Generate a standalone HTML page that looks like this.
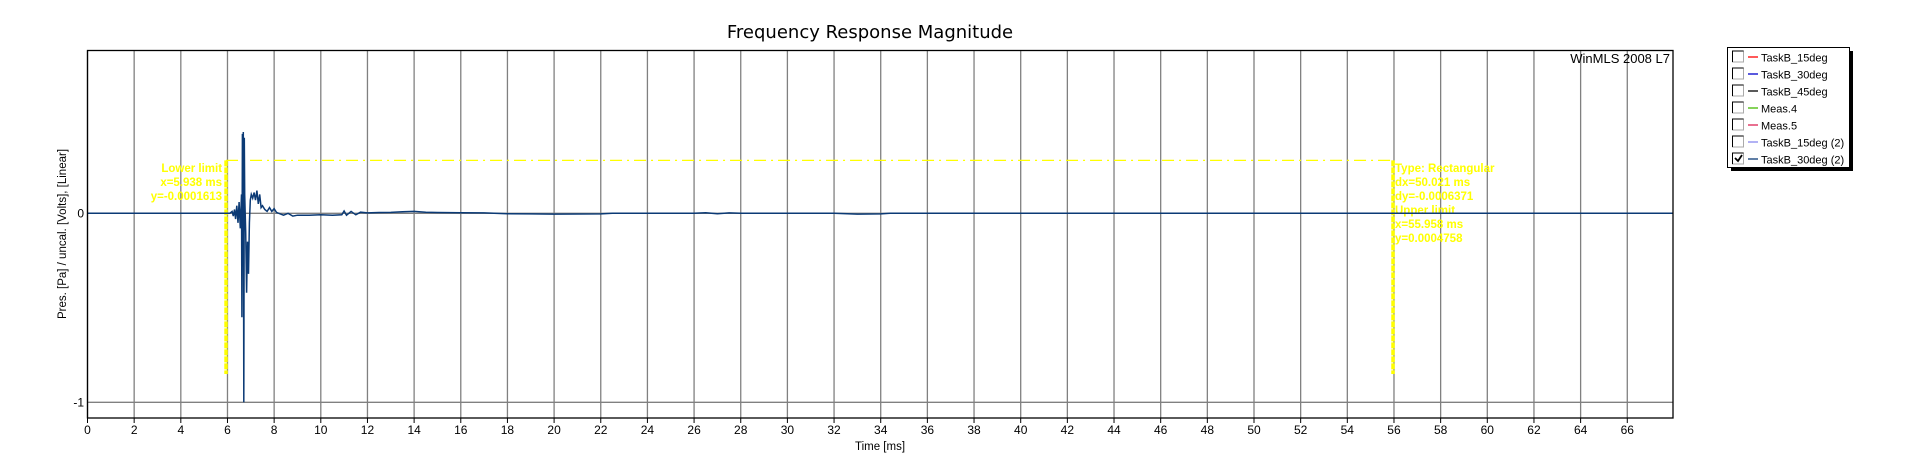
<!DOCTYPE html>
<html><head><meta charset="utf-8"><style>
body{margin:0;background:#fff;width:1912px;height:469px;overflow:hidden;font-family:"Liberation Sans",sans-serif}
svg{position:absolute;left:0;top:0}
</style></head><body>
<svg id="c" width="1912" height="469" xmlns="http://www.w3.org/2000/svg">
<text x="870" y="38" text-anchor="middle" font-size="18" font-family="DejaVu Sans, sans-serif" fill="#000">Frequency Response Magnitude</text>
<g id="grid"></g>
<g id="xt"></g>
<g id="yt"></g>
<g id="marker"></g>
<path id="wave" fill="none" stroke="#0b3a75" stroke-width="1.5"/>
<rect x="87.5" y="50.5" width="1585.5" height="367.5" fill="none" stroke="#000" stroke-width="1.3"/>
<text x="1670" y="63" text-anchor="end" font-size="13" fill="#000">WinMLS 2008 L7</text>
<text x="66" y="234" transform="rotate(-90 66 234)" text-anchor="middle" font-size="11.5" fill="#000">Pres. [Pa] / uncal. [Volts], [Linear]</text>
<text x="880" y="450" text-anchor="middle" font-size="11.5" fill="#000">Time [ms]</text>
<g>
<rect x="1731" y="51" width="122" height="120" fill="#000"/>
<rect x="1727.5" y="47.5" width="122" height="120" fill="#fff" stroke="#000"/>
<g id="leg"></g>
</g>
</svg>
<script>
const xTicks=[0,2,4,6,8,10,12,14,16,18,20,22,24,26,28,30,32,34,36,38,40,42,44,46,48,50,52,54,56,58,60,62,64,66];
const yTicks=[0,-1];
const waveT=[0,6.1,6.2,6.25,6.3,6.35,6.4,6.45,6.5,6.55,6.6,6.62,6.64,6.66,6.68,6.7,6.72,6.74,6.78,6.82,6.86,6.9,6.94,6.98,7.02,7.08,7.14,7.2,7.26,7.32,7.38,7.44,7.5,7.6,7.7,7.8,7.9,8.0,8.1,8.2,8.4,8.6,8.8,9.0,9.5,10,10.5,10.9,11.0,11.1,11.3,11.5,11.7,12,12.5,13,13.5,14,14.5,15,16,17,18,19,20,22,22.5,26,26.5,27,27.5,28,32,33,34,34.4,35];
const waveV=[0,0,0.01,-0.015,0.02,-0.03,0.04,-0.05,0.06,-0.08,0.1,-0.55,0.42,-0.25,0.43,-1,0.4,0.1,-0.1,-0.42,-0.15,-0.32,-0.05,0.07,0.1,0.08,0.11,0.07,0.12,0.05,0.1,0.03,0.04,0.02,0.01,0.03,0.01,0.025,0.005,0,-0.01,0,-0.015,-0.01,-0.01,-0.008,-0.01,-0.008,0.012,-0.01,0.01,-0.008,0.006,0.002,0.004,0.005,0.008,0.01,0.006,0.004,0.003,0.002,-0.002,-0.003,-0.004,-0.003,0,0,0.003,-0.002,0.002,0,0,-0.004,-0.003,0,0];
const legendNames=["TaskB_15deg","TaskB_30deg","TaskB_45deg","Meas.4","Meas.5","TaskB_15deg (2)","TaskB_30deg (2)"];
const legendColors=["#ff0000","#0000cc","#000000","#44bb00","#dd2255","#8888ee","#0b3a75"];
const legendChecked=[false,false,false,false,false,false,true];
const markerX=[5.938,55.958];
const markerYTop=0.28, markerYBot=-0.85;

const NS="http://www.w3.org/2000/svg";
const X=t=>87.5+t*23.33, Y=v=>213.3-v*189;
function mk(tag,at,par){const e=document.createElementNS(NS,tag);for(const k in at)e.setAttribute(k,at[k]);par.appendChild(e);return e;}
const grid=document.getElementById('grid'),xt=document.getElementById('xt'),yt=document.getElementById('yt');
xTicks.forEach(t=>{
 const l=mk('line',{x1:X(t),x2:X(t),y1:50.5,y2:418,stroke:'#808080','stroke-width':1.3},grid);
 
 
 mk('line',{x1:X(t),x2:X(t),y1:418,y2:423,stroke:'#000'},xt);
 const tx=mk('text',{x:X(t),y:434,'text-anchor':'middle','font-size':12},xt);tx.textContent=t;
 
 
});
yTicks.forEach(v=>{
 const l=mk('line',{x1:87.5,x2:1673,y1:Y(v),y2:Y(v),stroke:'#808080','stroke-width':1.3},grid);
 
 
 const tx=mk('text',{x:84,y:Y(v)+4,'text-anchor':'end','font-size':12},yt);tx.textContent=v;
 
 
});
let d='';waveT.forEach((t,i)=>{d+=(i?'L':'M')+X(t).toFixed(1)+' '+Y(waveV[i]).toFixed(1);});
d+='L1673 '+Y(0);
document.getElementById('wave').setAttribute('d',d);
const mg=document.getElementById('marker');
mk('line',{x1:X(markerX[0]),x2:X(markerX[1]),y1:Y(markerYTop),y2:Y(markerYTop),stroke:'#ffff00','stroke-width':1.3,'stroke-dasharray':'12 5 2 5'},mg);
markerX.forEach(m=>{
 const l=mk('line',{x1:X(m),x2:X(m),y1:Y(markerYTop),y2:Y(markerYBot),stroke:'#ffff00','stroke-width':3.5,'stroke-dasharray':'6 1'},mg);
 
 
});
const lt=["Lower limit","x=5.938 ms","y=-0.0001613"];
lt.forEach((s,i)=>{const e=mk('text',{x:X(markerX[0])-4,y:172+i*14,'text-anchor':'end','font-size':11.5,'font-weight':'bold',fill:'#ffff00'},mg);e.textContent=s;});
const rt=["Type: Rectangular","dx=50.021 ms","dy=-0.0006371","Upper limit","x=55.958 ms","y=0.0004758"];
rt.forEach((s,i)=>{const e=mk('text',{x:X(markerX[1])+2,y:172+i*14,'font-size':11.5,'font-weight':'bold',fill:'#ffff00'},mg);e.textContent=s;});
const leg=document.getElementById('leg');
legendNames.forEach((n,i)=>{
 const y=57+i*17;
 const g=mk('g',{},leg);
 
 
 mk('rect',{x:1732.5,y:y-6,width:11,height:11,fill:'#fff',stroke:'#aaa'},g);
 mk('path',{d:`M${1732.5} ${y+5}V${y-6}H${1743.5}`,fill:'none',stroke:'#000'},g);
 if(legendChecked[i])mk('path',{d:`M1735 ${y-1}l3 3l4 -6`,fill:'none',stroke:'#000','stroke-width':1.8},g);
 mk('line',{x1:1748,x2:1758,y1:y,y2:y,stroke:legendColors[i],'stroke-width':1.3},g);
 const t=mk('text',{x:1761,y:y+4.5,'font-size':11},g);t.textContent=n;
});
</script>
</body></html>
